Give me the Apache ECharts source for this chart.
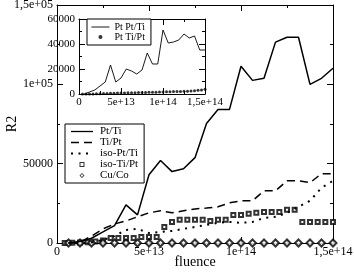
<!DOCTYPE html>
<html><head><meta charset="utf-8">
<script src="https://cdn.jsdelivr.net/npm/echarts@6/dist/echarts.min.js"></script>
<style>html,body{margin:0;padding:0;background:#fff}#c{width:354px;height:273px}</style>
</head><body><div id="c"></div>
<script>
// ---- data ----
const fluenceA = [6.25e12, 1.25e13, 1.875e13, 2.5e13, 3.125e13, 3.75e13, 4.375e13, 5e13, 5.625e13, 6.25e13, 6.875e13, 7.5e13, 8.125e13, 8.75e13, 9.375e13, 1e14, 1.0625e14, 1.125e14, 1.1875e14, 1.25e14, 1.3125e14, 1.375e14, 1.4375e14, 1.5e14];
const fluenceB = [4.17e12, 8.33e12, 1.25e13, 1.667e13, 2.083e13, 2.5e13, 2.917e13, 3.333e13, 3.75e13, 4.167e13, 4.583e13, 5e13, 5.417e13, 5.833e13, 6.25e13, 6.667e13, 7.083e13, 7.5e13, 7.917e13, 8.333e13, 8.75e13, 9.167e13, 9.583e13, 1e14, 1.0417e14, 1.0833e14, 1.125e14, 1.1667e14, 1.2083e14, 1.25e14, 1.2917e14, 1.3333e14, 1.375e14, 1.4167e14, 1.4583e14, 1.5e14];
const ptTi = [0, 1000, 3000, 7000, 11000, 24000, 17700, 43000, 52000, 45000, 46800, 53800, 75300, 84200, 84200, 111400, 102500, 103800, 126600, 129700, 129700, 100000, 103800, 110100];
const tiPt = [0, 500, 4400, 8900, 12000, 13900, 16500, 19000, 20300, 19000, 20300, 21500, 22000, 22800, 25300, 26600, 26600, 32900, 32900, 39200, 39200, 38000, 43700, 43700];
const isoPtTi = [0, 0, 500, 1900, 4400, 8200, 8900, 6300, 7000, 7600, 8900, 10100, 11400, 12700, 13300, 12700, 13300, 15800, 16500, 19000, 22800, 26600, 34800, 39200];
const isoTiPt = [0, 200, 300, 500, 1000, 1500, 3200, 3200, 3200, 3200, 3800, 3800, 3800, 10100, 13300, 14600, 14600, 14600, 14600, 13900, 14600, 14600, 17700, 17700, 18400, 19000, 19600, 19600, 19600, 20900, 20900, 13300, 13300, 13300, 13300, 13300];
const cuCo = [0, 0, 0, 0, 0, 0, 0, 0, 0, 0, 0, 0, 0, 0, 0, 0, 0, 0, 0, 0, 0, 0, 0, 0];
const insetPtPtTi = [0, 1600, 3200, 6400, 9600, 23200, 9600, 12800, 20000, 18400, 16000, 19200, 32800, 24000, 24000, 51200, 40800, 41600, 43200, 48000, 44800, 46400, 35200, 35200];
const insetPtTiPt = [0, 0, 0, 100, 200, 300, 400, 500, 600, 700, 800, 800, 900, 1000, 1000, 1100, 1200, 1200, 1300, 1400, 1500, 1500, 1600, 1700, 1800, 1900, 2000, 2000, 2100, 2200, 2300, 2500, 2700, 3000, 3300, 3800];
const mainXTicks = ['0', '5e+13', '1e+14', '1,5e+14'];
const mainYTicks = ['0', '50000', '1e+05', '1,5e+05'];
const insetXTicks = ['0', '5e+13', '1e+14', '1,5e+14'];
const insetYTicks = ['0', '20000', '40000', '60000'];
const mainNames = ['Pt/Ti', 'Ti/Pt', 'iso-Pt/Ti', 'iso-Ti/Pt', 'Cu/Co'];
const insetNames = ['Pt Pt/Ti', 'Pt Ti/Pt'];

const FONT = 'Liberation Serif';
const pairs = (xs, ys) => ys.map((y, i) => [xs[i], y]);
const SQUARE = 'path://M0,0H10V10H0Z M2,2V8H8V2Z';
const DIAMOND = 'path://M5,0L10,5L5,10L0,5Z M5,2.2L2.2,5L5,7.8L7.8,5Z';
const DOT = 'path://M0,5a5,5 0 1,0 10,0a5,5 0 1,0 -10,0Z';

function xAx(grid, pos, labels, z, show) {
  return {
    type: 'value', gridIndex: grid, position: pos, min: 0, max: 1.5e14, interval: 5e13, z: z,
    axisLine: {show: true, onZero: false, lineStyle: {color: '#000', width: 1}},
    axisTick: {show: true, inside: true, length: 6, lineStyle: {color: '#000'}},
    minorTick: {show: true, splitNumber: 2, length: 3, lineStyle: {color: '#000'}},
    splitLine: {show: false},
    axisLabel: {show: show, margin: 3, color: '#000', fontFamily: FONT, fontSize: grid === 0 ? 12 : 11,
      showMinLabel: true, showMaxLabel: true,
      formatter: v => labels[Math.round(v / 5e13)]}
  };
}
function yAx(grid, pos, max, interval, labels, z, show) {
  return {
    type: 'value', gridIndex: grid, position: pos, min: 0, max: max, interval: interval, z: z,
    axisLine: {show: true, onZero: false, lineStyle: {color: '#000', width: 1}},
    axisTick: {show: true, inside: true, length: 6, lineStyle: {color: '#000'}},
    minorTick: {show: true, splitNumber: 2, length: 3, lineStyle: {color: '#000'}},
    splitLine: {show: false},
    axisLabel: {show: show, margin: 4, color: '#000', fontFamily: FONT, fontSize: grid === 0 ? 12 : 11,
      showMinLabel: true, showMaxLabel: true,
      formatter: v => labels[Math.round(v / interval)]}
  };
}

const mainX = xAx(0, 'bottom', mainXTicks, 0, true);
mainX.name = 'fluence'; mainX.nameLocation = 'middle'; mainX.nameGap = 12; mainX.nameMoveOverlap = false;
mainX.nameTextStyle = {fontFamily: FONT, fontSize: 14, color: '#000'};
const mainY = yAx(0, 'left', 1.5e5, 5e4, mainYTicks, 0, true);
mainY.name = 'R2'; mainY.nameLocation = 'middle'; mainY.nameGap = 38; mainY.nameMoveOverlap = false;
mainY.nameTextStyle = {fontFamily: FONT, fontSize: 14, color: '#000'};

const hideSym = {opacity: 0};
const hollow = {borderWidth: 0};
const chart = echarts.init(document.getElementById('c'), null, {renderer: 'canvas'});
chart.setOption({
  animation: false,
  backgroundColor: '#fff',
  grid: [
    {left: 57, top: 5, width: 276, height: 238, show: false, containLabel: false, outerBoundsMode: 'none'},
    {left: 79, top: 19, width: 126, height: 75, show: true, backgroundColor: '#fff', borderWidth: 0, z: 10, containLabel: false, outerBoundsMode: 'none'}
  ],
  xAxis: [mainX, xAx(0, 'top', mainXTicks, 0, false), xAx(1, 'bottom', insetXTicks, 12, true), xAx(1, 'top', insetXTicks, 12, false)],
  yAxis: [mainY, yAx(0, 'right', 1.5e5, 5e4, mainYTicks, 0, false), yAx(1, 'left', 60000, 20000, insetYTicks, 12, true), yAx(1, 'right', 60000, 20000, insetYTicks, 12, false)],
  legend: [
    {data: [
       {name: mainNames[0], itemStyle: hideSym, lineStyle: {width: 1.3}},
       {name: mainNames[1], itemStyle: hideSym, lineStyle: {width: 1.3}},
       {name: mainNames[2], itemStyle: hideSym},
       {name: mainNames[3], icon: SQUARE, itemStyle: hollow},
       {name: mainNames[4], icon: DIAMOND, itemStyle: hollow}],
     orient: 'vertical', left: 65, top: 124, itemWidth: 22, itemHeight: 5, itemGap: 0, symbolKeepAspect: true,
     borderColor: '#000', borderWidth: 1, backgroundColor: '#fff', padding: [2, 6, 2, 5], z: 5,
     textStyle: {fontFamily: FONT, fontSize: 11, color: '#000', padding: [0, 0, 0, 2]}},
    {data: [
       {name: insetNames[0], itemStyle: hideSym, lineStyle: {width: 0.9}},
       {name: insetNames[1], icon: DOT}],
     orient: 'vertical', left: 87, top: 19, itemWidth: 18, itemHeight: 4, itemGap: 0, symbolKeepAspect: true,
     borderColor: '#000', borderWidth: 1, backgroundColor: '#fff', padding: [3, 6, 3, 4], z: 15,
     textStyle: {fontFamily: FONT, fontSize: 10, color: '#000'}}
  ],
  series: [
    {name: 'Pt/Ti', type: 'line', xAxisIndex: 0, yAxisIndex: 0, data: pairs(fluenceA, ptTi), symbol: 'none',
     lineStyle: {color: '#000', width: 1.5}, itemStyle: {color: '#000'}},
    {name: 'Ti/Pt', type: 'line', xAxisIndex: 0, yAxisIndex: 0, data: pairs(fluenceA, tiPt), symbol: 'none',
     lineStyle: {color: '#000', width: 1.5, type: [8, 5]}, itemStyle: {color: '#000'}},
    {name: 'iso-Pt/Ti', type: 'line', xAxisIndex: 0, yAxisIndex: 0, data: pairs(fluenceA, isoPtTi), symbol: 'none',
     lineStyle: {color: '#000', width: 2, type: [2, 5.5]}, itemStyle: {color: '#000'}},
    {name: 'iso-Ti/Pt', type: 'scatter', xAxisIndex: 0, yAxisIndex: 0, data: pairs(fluenceB, isoTiPt), symbol: 'emptyRect', symbolSize: 4,
     itemStyle: {color: '#000', borderColor: '#000', borderWidth: 0.6}},
    {name: 'Cu/Co', type: 'scatter', xAxisIndex: 0, yAxisIndex: 0, data: pairs(fluenceA, cuCo), symbol: 'emptyDiamond', symbolSize: 7,
     itemStyle: {color: '#000', borderColor: '#000', borderWidth: 0.7}},
    {name: 'Pt Pt/Ti', type: 'line', xAxisIndex: 2, yAxisIndex: 2, data: pairs(fluenceA, insetPtPtTi), symbol: 'none', z: 12,
     lineStyle: {color: '#000', width: 0.9}, itemStyle: {color: '#000'}},
    {name: 'Pt Ti/Pt', type: 'scatter', xAxisIndex: 2, yAxisIndex: 2, data: pairs(fluenceB, insetPtTiPt), symbol: 'circle', symbolSize: 3, z: 12,
     itemStyle: {color: '#000'}}
  ]
});
</script></body></html>
